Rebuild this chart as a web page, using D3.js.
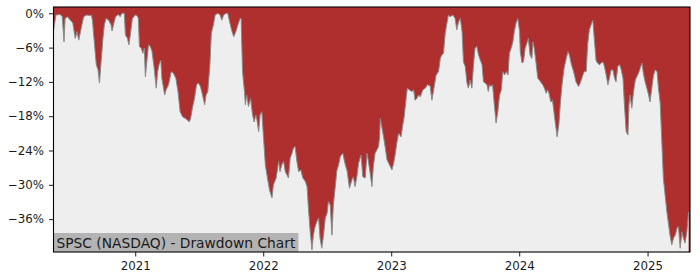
<!DOCTYPE html>
<html>
<head>
<meta charset="utf-8">
<script src="https://d3js.org/d3.v7.min.js"></script>
<style>
  body { margin: 0; background: #fff; }
  text { font-family: "DejaVu Sans", sans-serif; }
</style>
</head>
<body>
<div id="chart"></div>
<script>
// drawdown values (%), one array per year: [date, drawdown]
var dd2020 = [
  ["2020-05-13",-3.0],["2020-05-20",-0.3],["2020-06-01",-0.2],["2020-06-07",-0.6],["2020-06-12",-5.0],
  ["2020-06-15",-0.9],["2020-06-22",-0.6],["2020-06-30",-1.2],["2020-07-07",-1.7],["2020-07-14",-4.4],
  ["2020-07-19",-3.2],["2020-07-24",-4.7],["2020-07-28",-3.5],["2020-08-02",-2.0],["2020-08-07",-0.6],
  ["2020-08-16",-0.3],["2020-08-24",-0.4],["2020-08-29",-0.3],["2020-09-01",-1.2],["2020-09-07",-5.5],
  ["2020-09-12",-9.0],["2020-09-17",-9.9],["2020-09-21",-12.2],["2020-09-25",-9.0],["2020-10-01",-4.4],
  ["2020-10-05",-2.0],["2020-10-10",-0.9],["2020-10-17",-1.2],["2020-10-24",-2.0],["2020-10-27",-3.1],
  ["2020-10-31",-2.0],["2020-11-06",-0.6],["2020-11-14",-0.2],["2020-11-19",-0.6],["2020-11-24",0],
  ["2020-12-01",0],["2020-12-04",-3.8],["2020-12-10",-4.4],["2020-12-14",-5.5],["2020-12-18",-3.8],
  ["2020-12-24",-0.9]
];
var dd2021 = [
  ["2021-01-01",-0.3],["2021-01-06",-0.4],["2021-01-10",-0.9],["2021-01-13",-5.8],["2021-01-18",-6.1],
  ["2021-01-23",-7.0],["2021-01-27",-6.1],["2021-01-30",-11.1],["2021-02-03",-8.5],["2021-02-08",-5.5],
  ["2021-02-13",-5.8],["2021-02-18",-6.7],["2021-02-24",-9.6],["2021-03-02",-13.1],["2021-03-06",-10.2],
  ["2021-03-10",-9.0],["2021-03-15",-8.2],["2021-03-18",-11.4],["2021-03-26",-14.3],["2021-03-30",-13.4],
  ["2021-04-06",-12.5],["2021-04-14",-10.2],["2021-04-20",-10.5],["2021-04-27",-11.4],["2021-05-03",-13.7],
  ["2021-05-09",-17.2],["2021-05-16",-18.1],["2021-05-24",-18.4],["2021-05-29",-18.6],["2021-06-04",-19.0],
  ["2021-06-08",-18.4],["2021-06-13",-16.6],["2021-06-19",-14.9],["2021-06-25",-12.5],["2021-06-30",-12.2],
  ["2021-07-06",-12.8],["2021-07-12",-14.3],["2021-07-18",-16.0],["2021-07-22",-14.3],["2021-07-27",-13.7],
  ["2021-08-02",-9.0],["2021-08-06",-3.5],["2021-08-12",-2.0],["2021-08-17",-0.3],["2021-08-25",0],
  ["2021-08-31",-0.3],["2021-09-05",-1.2],["2021-09-10",-0.3],["2021-09-17",0],["2021-09-22",0],
  ["2021-09-28",-1.7],["2021-10-04",-3.2],["2021-10-09",-4.1],["2021-10-15",-3.2],["2021-10-21",-2.0],
  ["2021-10-27",-0.9],["2021-10-30",-0.9],["2021-11-03",-10.2],["2021-11-09",-14.0],["2021-11-11",-16.0],
  ["2021-11-15",-14.3],["2021-11-20",-16.3],["2021-11-26",-14.9],["2021-12-01",-17.5],["2021-12-06",-19.0],
  ["2021-12-11",-17.8],["2021-12-14",-18.6],["2021-12-19",-20.7],["2021-12-23",-17.8],["2021-12-28",-17.2]
];
var dd2022 = [
  ["2022-01-02",-21.9],["2022-01-07",-26.5],["2022-01-13",-28.8],["2022-01-19",-30.9],["2022-01-26",-32.3],
  ["2022-01-30",-30.0],["2022-02-07",-28.8],["2022-02-14",-25.9],["2022-02-18",-27.7],["2022-02-23",-26.5],
  ["2022-02-28",-25.9],["2022-03-05",-27.7],["2022-03-10",-28.3],["2022-03-14",-28.8],["2022-03-19",-25.3],
  ["2022-03-24",-24.5],["2022-03-28",-23.6],["2022-04-02",-23.3],["2022-04-07",-25.9],["2022-04-12",-27.7],
  ["2022-04-18",-27.4],["2022-04-24",-28.8],["2022-05-01",-29.4],["2022-05-06",-30.3],["2022-05-10",-34.1],
  ["2022-05-15",-38.2],["2022-05-20",-41.4],["2022-05-24",-38.8],["2022-05-29",-37.3],["2022-06-03",-36.4],
  ["2022-06-08",-35.8],["2022-06-12",-39.3],["2022-06-17",-41.1],["2022-06-22",-38.8],["2022-06-27",-35.8],
  ["2022-07-02",-35.0],["2022-07-06",-32.9],["2022-07-11",-33.5],["2022-07-16",-38.8],["2022-07-20",-33.5],
  ["2022-07-25",-30.6],["2022-07-30",-27.5],["2022-08-04",-26.5],["2022-08-09",-25.0],["2022-08-16",-24.5],
  ["2022-08-23",-26.5],["2022-08-28",-27.5],["2022-09-04",-30.6],["2022-09-11",-29.1],["2022-09-15",-28.6],
  ["2022-09-20",-30.3],["2022-09-25",-28.6],["2022-09-30",-26.2],["2022-10-07",-24.8],["2022-10-12",-28.6],
  ["2022-10-19",-28.8],["2022-10-24",-24.5],["2022-10-28",-25.9],["2022-11-02",-28.0],["2022-11-07",-30.3],
  ["2022-11-11",-26.8],["2022-11-16",-24.5],["2022-11-21",-23.9],["2022-11-26",-23.3],["2022-11-29",-21.5],
  ["2022-12-01",-18.4],["2022-12-05",-19.8],["2022-12-10",-21.6],["2022-12-13",-22.7],["2022-12-20",-25.6],
  ["2022-12-27",-26.5]
];
var dd2023 = [
  ["2023-01-03",-27.4],["2023-01-08",-26.2],["2023-01-12",-24.8],["2023-01-17",-22.7],["2023-01-22",-21.0],
  ["2023-01-29",-21.6],["2023-02-03",-19.5],["2023-02-07",-18.1],["2023-02-13",-14.6],["2023-02-16",-13.1],
  ["2023-02-22",-13.4],["2023-03-01",-13.7],["2023-03-06",-13.4],["2023-03-10",-15.2],["2023-03-15",-14.9],
  ["2023-03-20",-14.3],["2023-03-25",-14.6],["2023-04-01",-13.4],["2023-04-08",-13.1],["2023-04-14",-12.5],
  ["2023-04-22",-12.7],["2023-04-27",-15.2],["2023-05-02",-13.4],["2023-05-09",-10.8],["2023-05-16",-10.2],
  ["2023-05-21",-7.9],["2023-05-25",-7.3],["2023-05-30",-7.0],["2023-06-04",-3.5],["2023-06-09",-1.7],
  ["2023-06-13",-0.3],["2023-06-18",-0.6],["2023-06-26",-0.3],["2023-07-02",-0.9],["2023-07-07",-2.9],
  ["2023-07-12",-1.5],["2023-07-17",-0.9],["2023-07-22",-3.2],["2023-07-26",-8.5],["2023-07-31",-9.3],
  ["2023-08-05",-12.2],["2023-08-09",-13.1],["2023-08-14",-11.7],["2023-08-19",-13.1],["2023-08-24",-8.7],
  ["2023-08-28",-6.1],["2023-09-02",-5.8],["2023-09-07",-7.3],["2023-09-12",-8.2],["2023-09-17",-9.0],
  ["2023-09-21",-12.0],["2023-09-26",-12.2],["2023-10-01",-12.5],["2023-10-05",-13.7],["2023-10-08",-12.5],
  ["2023-10-12",-12.8],["2023-10-17",-12.5],["2023-10-22",-16.0],["2023-10-27",-19.2],["2023-11-01",-17.2],
  ["2023-11-06",-14.3],["2023-11-11",-13.4],["2023-11-15",-10.2],["2023-11-20",-10.8],["2023-11-25",-10.2],
  ["2023-11-30",-10.8],["2023-12-04",-7.0],["2023-12-09",-6.1],["2023-12-14",-5.0],["2023-12-18",-3.2],
  ["2023-12-23",-1.7],["2023-12-28",-0.9]
];
var dd2024 = [
  ["2024-01-02",-3.2],["2024-01-04",-6.7],["2024-01-09",-8.7],["2024-01-13",-8.5],["2024-01-18",-6.1],
  ["2024-01-23",-5.2],["2024-01-27",-4.4],["2024-02-01",-7.3],["2024-02-06",-7.9],["2024-02-09",-5.0],
  ["2024-02-13",-6.1],["2024-02-18",-8.7],["2024-02-23",-11.4],["2024-02-28",-11.7],["2024-03-04",-12.2],
  ["2024-03-08",-12.5],["2024-03-13",-13.1],["2024-03-18",-14.0],["2024-03-22",-13.4],["2024-03-26",-14.0],
  ["2024-03-31",-15.5],["2024-04-05",-15.2],["2024-04-10",-17.8],["2024-04-15",-20.1],["2024-04-18",-21.6],
  ["2024-04-23",-19.5],["2024-04-27",-16.0],["2024-05-02",-12.5],["2024-05-08",-9.6],["2024-05-14",-7.9],
  ["2024-05-19",-6.7],["2024-05-23",-7.3],["2024-05-29",-9.0],["2024-06-04",-10.2],["2024-06-11",-12.0],
  ["2024-06-18",-12.8],["2024-06-23",-12.2],["2024-06-29",-11.1],["2024-07-04",-10.2],["2024-07-10",-10.2],
  ["2024-07-14",-5.5],["2024-07-19",-2.9],["2024-07-24",-2.0],["2024-07-29",-1.2],["2024-08-02",-4.4],
  ["2024-08-07",-8.2],["2024-08-11",-8.7],["2024-08-17",-9.0],["2024-08-22",-8.7],["2024-08-27",-8.5],
  ["2024-08-31",-9.3],["2024-09-05",-10.8],["2024-09-10",-12.5],["2024-09-15",-11.1],["2024-09-19",-9.9],
  ["2024-09-24",-9.9],["2024-09-29",-11.4],["2024-10-03",-12.0],["2024-10-08",-9.3],["2024-10-13",-9.0],
  ["2024-10-18",-9.9],["2024-10-23",-11.4],["2024-10-27",-16.0],["2024-11-01",-20.7],["2024-11-06",-21.3],
  ["2024-11-09",-16.0],["2024-11-12",-14.3],["2024-11-17",-16.6],["2024-11-22",-13.7],["2024-11-27",-11.7],
  ["2024-12-01",-11.1],["2024-12-06",-10.5],["2024-12-11",-9.6],["2024-12-16",-8.7],["2024-12-20",-10.5],
  ["2024-12-25",-12.0],["2024-12-30",-13.1]
];
var dd2025 = [
  ["2025-01-04",-14.3],["2025-01-08",-15.5],["2025-01-13",-13.1],["2025-01-18",-10.8],["2025-01-23",-9.9],
  ["2025-01-28",-10.2],["2025-02-01",-13.1],["2025-02-06",-15.7],["2025-02-11",-23.0],["2025-02-15",-28.8],
  ["2025-02-20",-31.8],["2025-02-25",-34.7],["2025-03-02",-37.0],["2025-03-06",-38.8],["2025-03-11",-40.5],
  ["2025-03-16",-39.3],["2025-03-21",-38.8],["2025-03-26",-37.6],["2025-03-30",-37.3],["2025-04-04",-41.1],
  ["2025-04-09",-38.2],["2025-04-13",-39.3],["2025-04-18",-40.2],["2025-04-23",-38.2],["2025-04-28",-34.7]
];

var yTicks = [0, -6, -12, -18, -24, -30, -36];
var xTickYears = ["2021", "2022", "2023", "2024", "2025"];
var dateRange = ["2020-05-13", "2025-05-02"];
var yRange = [-41.75, 1.1];
var title = "SPSC (NASDAQ) - Drawdown Chart";

// set the dimensions and margins of the graph
var margin = {top: 7, left: 53.5, right: 10, bottom: 28},
    width = 700 - margin.left - margin.right,
    height = 280 - margin.top - margin.bottom;

var parse = d3.timeParse("%Y-%m-%d");
var data = [].concat(dd2020, dd2021, dd2022, dd2023, dd2024, dd2025)
  .map(function(d) { return {date: parse(d[0]), value: d[1]}; });

var svg = d3.select("#chart")
  .append("svg")
    .attr("width", 700)
    .attr("height", 280)
  .append("g")
    .attr("transform", "translate(" + margin.left + "," + margin.top + ")");

var x = d3.scaleTime()
  .domain(dateRange.map(parse))
  .range([0, width]);

var y = d3.scaleLinear()
  .domain(yRange)
  .range([height, 0]);

svg.append("clipPath").attr("id", "plotclip")
  .append("rect").attr("width", width).attr("height", height);

var plot = svg.append("g").attr("clip-path", "url(#plotclip)");

// red above the curve, grey below it
plot.append("rect")
  .attr("width", width)
  .attr("height", height)
  .attr("fill", "#af2f2f");

var area = d3.area()
  .x(function(d) { return x(d.date); })
  .y0(height)
  .y1(function(d) { return y(d.value); });

plot.append("path")
  .datum(data)
  .attr("fill", "#eeeeee")
  .attr("d", area);

var line = d3.line()
  .x(function(d) { return x(d.date); })
  .y(function(d) { return y(d.value); });

plot.append("path")
  .datum(data)
  .attr("fill", "none")
  .attr("stroke", "#8a8a8a")
  .attr("stroke-width", 1)
  .attr("d", line);

// title box in lower left corner
var tbox = plot.append("g");
var ttext = tbox.append("text")
  .attr("x", 3)
  .attr("y", height - 4.5)
  .style("font-size", "13.8px")
  .style("fill", "#1a1a1a")
  .text(title);
var tw = ttext.node().getComputedTextLength();
tbox.insert("rect", "text")
  .attr("x", 0)
  .attr("y", height - 19)
  .attr("width", tw + 6)
  .attr("height", 19)
  .attr("fill", "#b3b3b3");

// axes
var fmt = function(d) { return d === 0 ? "0%" : "\u2212" + Math.abs(d) + "%"; };

var yAxis = svg.append("g")
  .call(d3.axisLeft(y).tickValues(yTicks).tickFormat(fmt).tickSize(4.5).tickPadding(5));

var xAxis = svg.append("g")
  .attr("transform", "translate(0," + height + ")")
  .call(d3.axisBottom(x)
    .tickValues(xTickYears.map(function(s) { return parse(s + "-01-01"); }))
    .tickFormat(d3.timeFormat("%Y"))
    .tickSize(4.5).tickPadding(5));

[yAxis, xAxis].forEach(function(a) {
  a.select(".domain").remove();
  a.selectAll("text")
    .style("font-family", "DejaVu Sans")
    .style("font-size", "11.8px")
    .style("fill", "#1a1a1a");
  a.selectAll("line").attr("stroke", "#1a1a1a");
});

// frame
svg.append("rect")
  .attr("width", width)
  .attr("height", height)
  .attr("fill", "none")
  .attr("stroke", "#000")
  .attr("stroke-width", 1.1);
</script>
</body>
</html>
